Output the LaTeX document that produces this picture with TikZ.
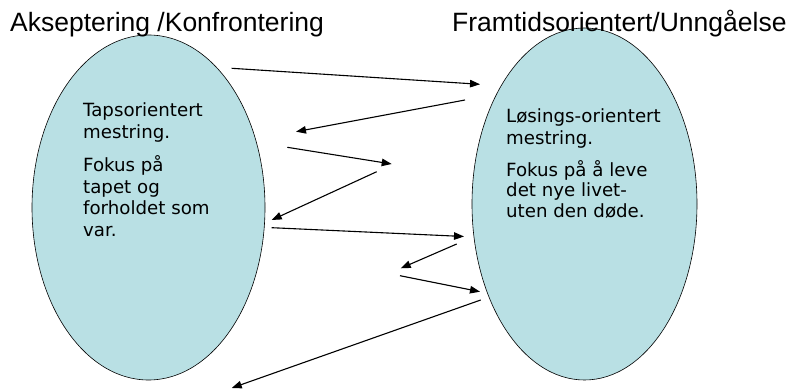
\documentclass[tikz,border=0pt]{standalone}
\usepackage{fontspec}
\setmainfont{Liberation Sans}
\newfontfamily\verdanalike{DejaVu Sans}
\usetikzlibrary{shapes.geometric,arrows.meta}
\definecolor{blobfill}{RGB}{185,224,228}
\tikzset{
  blob/.style={ellipse, draw=black, line width=0.6pt, fill=blobfill, inner sep=0pt},
  title/.style={anchor=base west, inner sep=0pt, font=\fontsize{26.5}{30}\selectfont},
  body/.style={anchor=base west, inner sep=0pt, font=\verdanalike\fontsize{18.2}{21}\selectfont},
  flow/.style={line width=1.1pt, -{Triangle[length=10pt,width=7.5pt]}}
}
\begin{document}
\begin{tikzpicture}[x=1pt,y=-1pt]
\useasboundingbox (0,0) rectangle (793,390);
% ellipses
\node[blob, minimum width=233pt, minimum height=345pt] (L) at (148.5,207.5) {};
\node[blob, minimum width=225pt, minimum height=352pt] (R) at (584.5,204) {};
% titles
\node[title] (tL) at (10,32) {Akseptering /Konfrontering};
\node[title] (tR) at (452,32) {Framtidsorientert/Unngåelse};
% left text
\node[body] (l1) at (83,117) {Tapsorientert};
\node[body] (l2) at (83,138.5) {mestring.};
\node[body] (l3) at (83,172) {Fokus på};
\node[body] (l4) at (83,193.5) {tapet og};
\node[body] (l5) at (83,215) {forholdet som};
\node[body] (l6) at (83,236.5) {var.};
% right text
\node[body] (r1) at (506,123) {Løsings-orientert};
\node[body] (r2) at (506,144.5) {mestring.};
\node[body] (r3) at (506,176.5) {Fokus på å leve};
\node[body] (r4) at (506,197) {det nye livet-};
\node[body] (r5) at (506,218) {uten den døde.};
% arrow endpoints
\coordinate (a1s) at (231.7,68.3);  \coordinate (a1e) at (480,84.3);
\coordinate (a2s) at (465,100);     \coordinate (a2e) at (296,131.7);
\coordinate (a3s) at (287.3,147.3); \coordinate (a3e) at (391.7,164);
\coordinate (a4s) at (376.7,171.7); \coordinate (a4e) at (271.7,220);
\coordinate (a5s) at (271.7,227.7); \coordinate (a5e) at (464,236.5);
\coordinate (a6s) at (456.7,244);   \coordinate (a6e) at (400.7,268.3);
\coordinate (a7s) at (400,275.7);   \coordinate (a7e) at (480,291.7);
\coordinate (a8s) at (480.7,300);   \coordinate (a8e) at (231.7,388);
\draw[flow] (a1s) -- (a1e);
\draw[flow] (a2s) -- (a2e);
\draw[flow] (a3s) -- (a3e);
\draw[flow] (a4s) -- (a4e);
\draw[flow] (a5s) -- (a5e);
\draw[flow] (a6s) -- (a6e);
\draw[flow] (a7s) -- (a7e);
\draw[flow] (a8s) -- (a8e);
\end{tikzpicture}
\end{document}
